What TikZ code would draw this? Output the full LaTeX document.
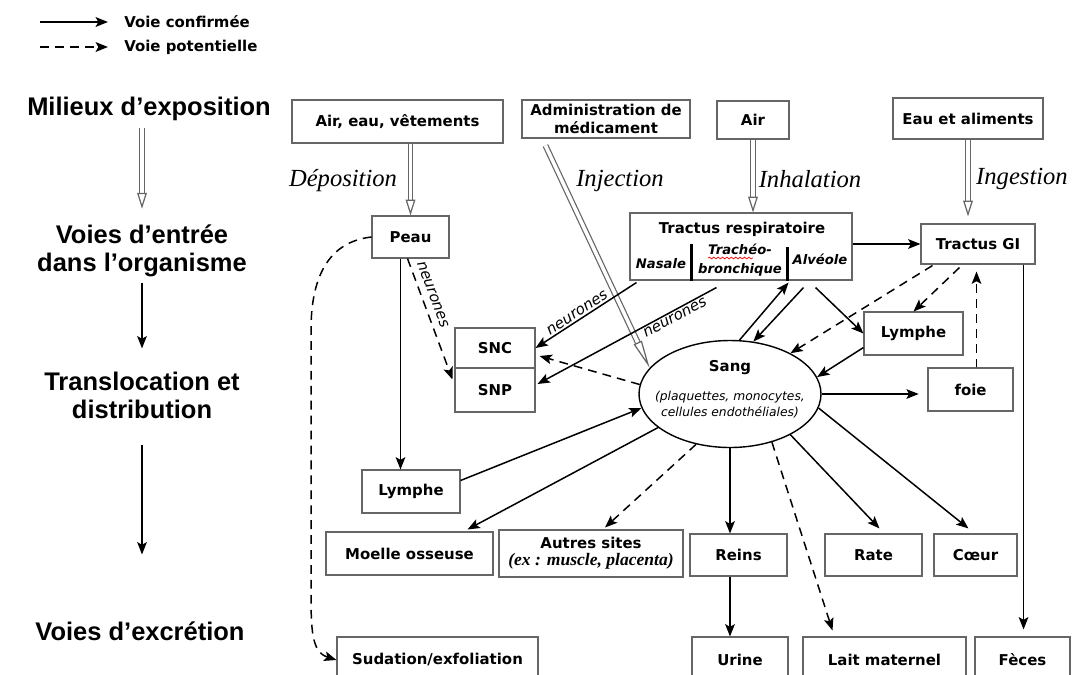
\documentclass[tikz,border=0pt]{standalone}
\usepackage{fontspec}
\setmainfont{DejaVu Sans}
\newfontfamily\arialfont{Liberation Sans}
\newfontfamily\timesfont{Liberation Serif}
\usetikzlibrary{arrows.meta,shapes.geometric,calc,decorations.pathmorphing}
\newcommand{\boxfont}{\fontsize{8.5}{10.5}\selectfont\bfseries}
\newcommand{\titrefont}{\arialfont\fontsize{14.5}{16}\selectfont\bfseries}
\newcommand{\voiefont}{\timesfont\itshape\fontsize{14}{16}\selectfont}
\newcommand{\neurfont}{\itshape\fontsize{8.5}{10}\selectfont}
\newcommand{\sangfont}{\itshape\fontsize{7}{9}\selectfont}
\newcommand{\subfont}{\bfseries\itshape\fontsize{7.5}{11}\selectfont}

\begin{document}
\begin{tikzpicture}[x=0.02cm, y=-0.02cm,
  box/.style={draw=black!60, line width=0.6pt, fill=white, font=\boxfont, align=center, inner sep=1pt},
  conf/.style={-{Stealth[length=7pt,width=5.5pt,inset=1.5pt]}, line width=0.85pt},
  pot/.style={conf, dash pattern=on 5pt off 3.5pt},
  voie/.style={draw=black!60, line width=0.7pt, double=white, double distance=2pt, -{Triangle[open,length=9pt,width=5.5pt]}},
  titre/.style={font=\titrefont, align=center, inner sep=0pt},
  voielab/.style={font=\voiefont, inner sep=0pt},
  neur/.style={font=\neurfont, inner sep=1pt},
  sz/.style 2 args={minimum width=#1*0.02cm, minimum height=#2*0.02cm}
]
\useasboundingbox (0,0) rectangle (1072,674);
\clip (0,0) rectangle (1072,674);
\fill[white] (0,0) rectangle (1072,674);

% legende
\node[font=\boxfont, anchor=west, inner sep=0pt] (lconf) at (124,22) {Voie confirmée};
\node[font=\boxfont, anchor=west, inner sep=0pt] (lpot) at (124,47) {Voie potentielle};
\coordinate (lc0) at (40,22);
\coordinate (lp0) at (40,47);
\draw[conf, line width=1.2pt] (lc0) -- ($(lconf.west)+(-16,0)$);
\draw[pot, line width=1.2pt] (lp0) -- ($(lpot.west)+(-16,0)$);

% colonne de gauche
\node[titre] (milieux) at (149,109) {Milieux d’exposition};
\node[titre] (entree) at (142,251) {Voies d’entrée\\dans l’organisme};
\node[titre] (transl) at (142,395) {Translocation et\\distribution};
\node[titre] (excr) at (140,631) {Voies d’excrétion};
\draw[voie, shorten <=4pt, shorten >=9pt] (milieux.south -| entree.north) -- (entree.north);
\draw[conf, shorten <=3pt, shorten >=13pt] (entree.south) -- (entree.south |- transl.north);
\draw[conf, shorten <=15pt, shorten >=38pt] (transl.south) -- (transl.south |- excr.north);

% milieux d'exposition
\node[box, sz={211}{43}] (airvv) at (397.5,121.5) {Air, eau, vêtements};
\node[box, sz={168}{38}] (admin) at (606,119) {Administration de\\médicament};
\node[box, sz={72}{38}] (air) at (753,120) {Air};
\node[box, sz={150}{41}] (eau) at (968,118.5) {Eau et aliments};

% voies d'entree
\node[box, sz={77}{42}] (peau) at (410.5,237) {Peau};
\node[box, sz={222}{67}] (tresp) at (741,246.5) {};
\node[font=\boxfont, inner sep=0pt] (trtitre) at (742,229) {Tractus respiratoire};
\node[font=\subfont, inner sep=0pt] (nasale) at (661,264) {Nasale};
\node[font=\subfont, inner sep=0pt, align=center] (trach) at (740,260) {Trachéo-\\bronchique};
\node[font=\subfont, inner sep=0pt] (alveole) at (820,259) {Alvéole};
\draw[line width=1.2pt] ($(tresp.south west)+(62,0)$) -- ++(0,-37);
\draw[line width=1.2pt] ($(tresp.south west)+(158,0)$) -- ++(0,-34);
\draw[red, line width=0.4pt, decorate, decoration={snake, amplitude=0.5pt, segment length=2.5pt}] ($(trach.center)+(-32,-2)$) -- ++(45,0);
\node[box, sz={114}{40}] (tgi) at (978,244) {Tractus GI};

% translocation
\node[box, sz={80}{40}] (snc) at (495,348) {SNC};
\node[box, sz={80}{44}] (snp) at (495,390) {SNP};
\node[draw, ellipse, line width=0.8pt, fill=white, inner sep=0pt, sz={182}{107}] (sang) at (730,394) {};
\node[font=\boxfont, inner sep=0pt] (sangtit) at (730,368) {Sang};
\node[font=\sangfont, align=center, inner sep=0pt] (sangsub) at (730,405) {(plaquettes, monocytes,\\cellules endothéliales)};
\node[box, sz={99}{43}] (lymR) at (913.5,333.5) {Lymphe};
\node[box, sz={85}{43}] (foie) at (970.5,389.5) {foie};
\node[box, sz={98}{43}] (lymL) at (411,491.5) {Lymphe};
\node[box, sz={167}{43}] (moelle) at (409.5,553.5) {Moelle osseuse};
\node[box, sz={184}{47}] (autres) at (591,553.5) {Autres sites\\[-1pt]{\timesfont\itshape\fontsize{10}{11}\selectfont (ex : muscle, placenta)}};
\node[box, sz={97}{42}] (reins) at (738.5,555) {Reins};
\node[box, sz={97}{42}] (rate) at (873.5,555) {Rate};
\node[box, sz={83}{42}] (coeur) at (975.5,555) {Cœur};

% excretion
\node[box, sz={201}{46}] (sudation) at (437.5,660) {Sudation/exfoliation};
\node[box, sz={96}{46}] (urine) at (740,660) {Urine};
\node[box, sz={163}{46}] (lait) at (884.5,660) {Lait maternel};
\node[box, sz={95}{46}] (feces) at (1022.5,660) {Fèces};

% voies d'entree
\draw[voie] (airvv.south -| peau.north) -- (peau.north);
\draw[voie, -{Triangle[open,length=16pt,width=5pt]}] ($(admin.south west)+(24,7)$) -- (sang.162);
\draw[voie] (air.south) -- (air.south |- tresp.north);
\draw[voie, shorten >=4pt] (eau.south) -- (eau.south |- tgi.north);
\node[voielab] (ldepo) at (343,181) {Déposition};
\node[voielab] (linje) at (620,181) {Injection};
\node[voielab] (linha) at (810,179) {Inhalation};
\node[voielab] (linge) at (1022,179) {Ingestion};

% connecteurs
\draw[conf] (tresp.east |- tgi.west) -- (tgi.west);
\coordinate (sudhaut) at (311,330);
\coordinate (sudbas) at (311,590);
\draw[pot] (peau.west) .. controls +(-45,5) and +(0,-50) .. (sudhaut) -- (sudbas) .. controls +(0,40) and +(-25,-8) .. (sudation.west);
\draw[conf] ($(peau.south)+(-10,0)$) coordinate (pl) -- (pl |- lymL.north);
\draw[pot] ($(peau.south)+(-3,0)$) -- node[neur, sloped, above=2.5pt, pos=0.33] (lneur1) {neurones} ($(snp.north west)+(-2,12)$);
\draw[conf] ($(tresp.south west)+(7,2)$) -- node[neur, sloped, above, pos=0.55] (lneur2) {neurones} (snc.east);
\draw[conf] ($(tresp.south west)+(87,7)$) -- node[neur, sloped, below, pos=0.25] (lneur3) {neurones} ($(snp.east)+(2,-6)$);
\draw[pot] (sang.174) -- ($(snc.east)+(4,8)$);
\draw[conf] (sang.80) -- ($(tresp.south east)+(-64,2)$);
\draw[conf] ($(tresp.south east)+(-49,7)$) -- (sang.66);
\draw[conf] ($(tresp.south east)+(-37,7)$) -- (lymR.west);
\draw[pot] ($(tgi.south west)+(12,1)$) -- (sang.34);
\draw[pot] ($(tgi.south west)+(39,3)$) -- (lymR.north);
\draw[pot, shorten >=4pt] ($(foie.north)+(6,0)$) coordinate (fg) -- (fg |- tgi.south);
\draw[conf] ($(lymR.west)+(0,14)$) -- (sang.11);
\draw[conf, shorten >=5pt] (sang.east) -- (sang.east -| foie.west);
\draw[conf, shorten >=4pt] ($(tgi.south east)+(-12,0)$) coordinate (gf) -- (gf |- feces.north);
\draw[conf] ($(lymL.east)+(0,-11)$) -- (sang.189);
\draw[conf] (sang.205) -- ($(moelle.north)+(58,-2)$);
\draw[pot] (sang.236) -- ($(autres.north)+(14,-2)$);
\draw[conf] (sang.south) -- (sang.south |- reins.north);
\draw[pot] (sang.311) -- ($(lait.north)+(-52,-6)$);
\draw[conf] (sang.326) -- ($(rate.north)+(6,-5)$);
\draw[conf] (sang.351) -- ($(coeur.north)+(-7,-5)$);
\draw[conf] (sang.south |- reins.south) -- (sang.south |- urine.north);
\end{tikzpicture}
\end{document}
